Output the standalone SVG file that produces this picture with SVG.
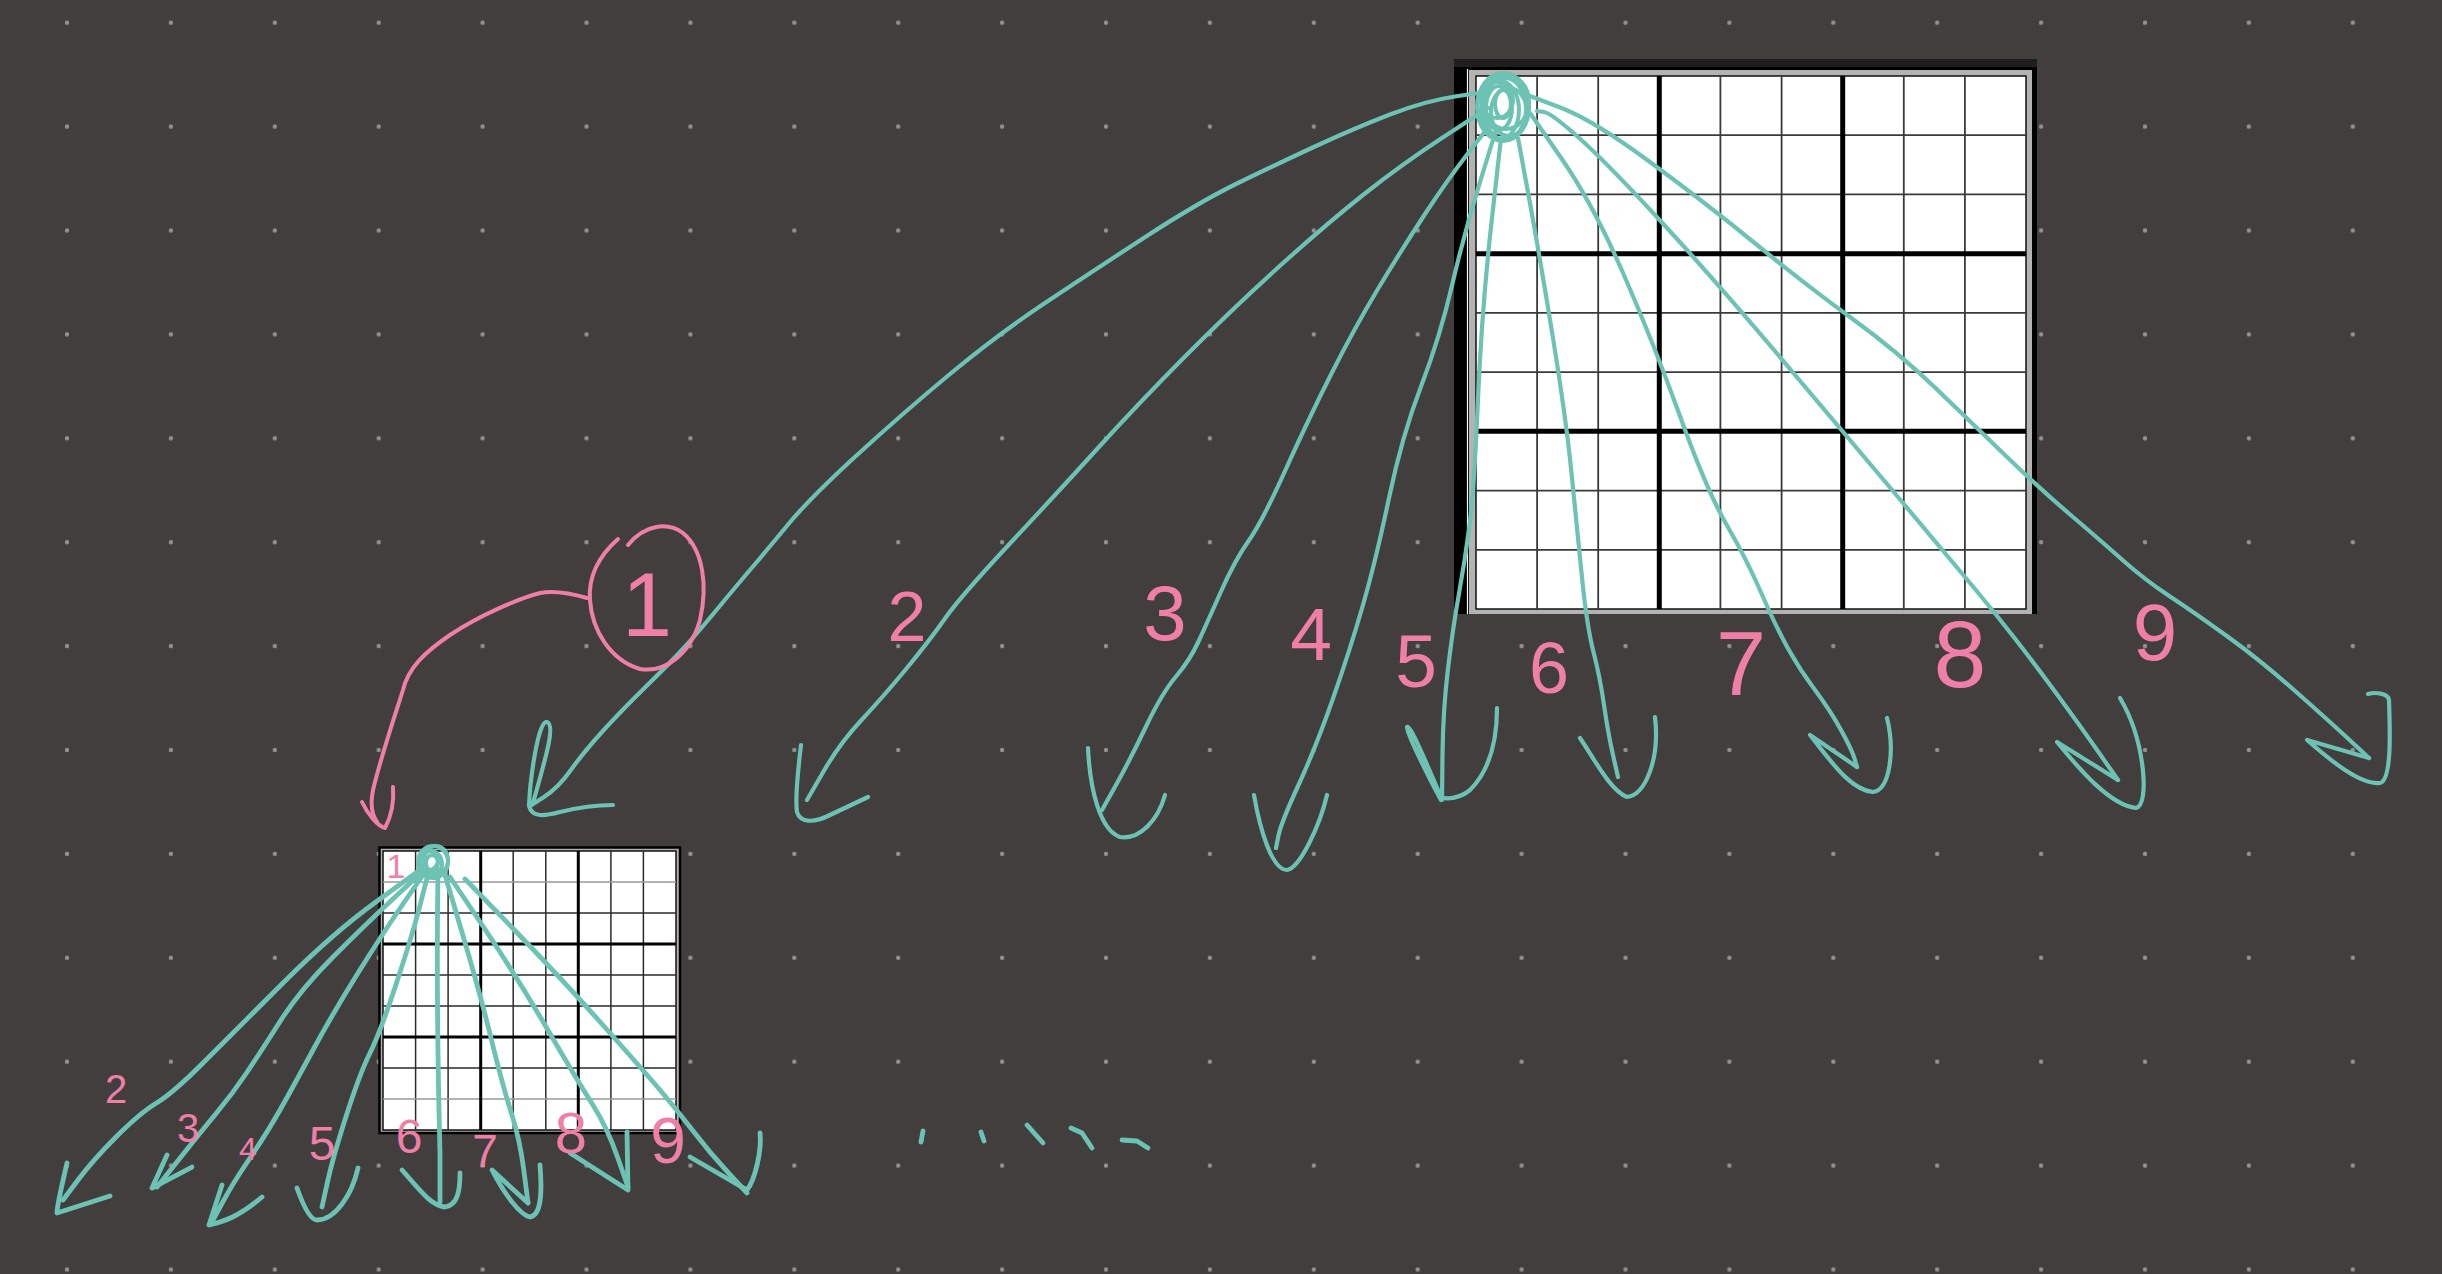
<svg xmlns="http://www.w3.org/2000/svg" width="2442" height="1274" viewBox="0 0 2442 1274">
<style>
.c{fill:none;stroke:#6cc3b3;stroke-width:4.2;stroke-linecap:round;stroke-linejoin:round}
.cs{fill:none;stroke:#6cc3b3;stroke-width:4.8;stroke-linecap:round;stroke-linejoin:round}
.p{fill:none;stroke:#f07fa8;stroke-width:4;stroke-linecap:round;stroke-linejoin:round}
.t{fill:none;stroke:#6cc3b3;stroke-width:4}
.lbl{fill:#f07fa8;font-family:"Liberation Sans",Arial,sans-serif;text-anchor:middle}
.thin{stroke:#3a3a3a;stroke-width:1.8}
.thick{stroke:#000;stroke-width:5}
.sthin{stroke:#2a2a2a;stroke-width:1.5}
.sthick{stroke:#000;stroke-width:3}
</style>
<defs>
<pattern id="dots" patternUnits="userSpaceOnUse" x="15.05" y="-29.25" width="103.9" height="103.9">
<circle cx="51.95" cy="51.95" r="2.2" fill="#929292"/>
</pattern>
</defs>
<rect x="0" y="0" width="2442" height="1274" fill="#423e3d"/>
<rect x="0" y="0" width="2442" height="1274" fill="url(#dots)"/>

<g id="board-large">
<rect x="1454" y="59" width="583" height="555" fill="#1f1f1f"/>
<rect x="1454" y="67" width="583" height="547" fill="#000"/>
<line x1="1467.5" y1="69" x2="1467.5" y2="614" stroke="#fff" stroke-width="1.2"/>
<rect x="1469" y="70" width="563" height="544" fill="#b3b3b3"/>
<rect x="1476" y="76" width="550" height="533" fill="#fff" stroke="#111" stroke-width="1.5"/>
<g class="thin">
<line x1="1537.1" y1="76" x2="1537.1" y2="609"/><line x1="1598.2" y1="76" x2="1598.2" y2="609"/>
<line x1="1720.4" y1="76" x2="1720.4" y2="609"/><line x1="1781.6" y1="76" x2="1781.6" y2="609"/>
<line x1="1903.8" y1="76" x2="1903.8" y2="609"/><line x1="1964.9" y1="76" x2="1964.9" y2="609"/>
<line x1="1476" y1="135.2" x2="2026" y2="135.2"/><line x1="1476" y1="194.4" x2="2026" y2="194.4"/>
<line x1="1476" y1="312.9" x2="2026" y2="312.9"/><line x1="1476" y1="372.1" x2="2026" y2="372.1"/>
<line x1="1476" y1="490.6" x2="2026" y2="490.6"/><line x1="1476" y1="549.8" x2="2026" y2="549.8"/>
</g>
<g class="thick">
<line x1="1659.3" y1="76" x2="1659.3" y2="609"/><line x1="1842.7" y1="76" x2="1842.7" y2="609"/>
<line x1="1476" y1="253.7" x2="2026" y2="253.7"/><line x1="1476" y1="431.3" x2="2026" y2="431.3"/>
</g>
</g>

<g id="board-small">
<rect x="379.5" y="847.5" width="300.5" height="285.5" fill="#b0b0b0" stroke="#000" stroke-width="2.5"/>
<rect x="383" y="851" width="293" height="279" fill="#fff" stroke="#111" stroke-width="1.5"/>
<g class="sthin">
<line x1="415.6" y1="851" x2="415.6" y2="1130"/><line x1="448.1" y1="851" x2="448.1" y2="1130"/>
<line x1="513.2" y1="851" x2="513.2" y2="1130"/><line x1="545.8" y1="851" x2="545.8" y2="1130"/>
<line x1="610.9" y1="851" x2="610.9" y2="1130"/><line x1="643.4" y1="851" x2="643.4" y2="1130"/>
<line x1="383" y1="882" x2="676" y2="882" stroke="#9a9a9a"/><line x1="383" y1="913" x2="676" y2="913"/>
<line x1="383" y1="975" x2="676" y2="975"/><line x1="383" y1="1006" x2="676" y2="1006"/>
<line x1="383" y1="1068" x2="676" y2="1068"/><line x1="383" y1="1099" x2="676" y2="1099" stroke="#9a9a9a"/>
</g>
<g class="sthick">
<line x1="480.7" y1="851" x2="480.7" y2="1130"/><line x1="578.3" y1="851" x2="578.3" y2="1130"/>
<line x1="383" y1="944" x2="676" y2="944"/><line x1="383" y1="1037" x2="676" y2="1037"/>
</g>
</g>

<g id="tangle-large">
<ellipse class="t" cx="1503" cy="107" rx="26" ry="34"/>
<ellipse class="t" cx="1500" cy="110" rx="19" ry="29"/>
<ellipse class="t" cx="1506" cy="102" rx="23" ry="27"/>
<ellipse class="t" cx="1499" cy="108" rx="13" ry="22"/>
<ellipse class="t" cx="1503" cy="104" rx="8" ry="14"/>
<ellipse class="t" cx="1509" cy="112" rx="18" ry="24"/>
<ellipse class="t" cx="1497" cy="100" rx="16" ry="18"/>
<ellipse class="t" cx="1505" cy="109" rx="21" ry="31"/>
</g>

<g id="tangle-small">
<ellipse class="t" cx="433" cy="862" rx="15" ry="16"/>
<ellipse class="t" cx="431" cy="864" rx="11" ry="13"/>
<ellipse class="t" cx="436" cy="860" rx="12" ry="14"/>
<ellipse class="t" cx="432" cy="863" rx="6" ry="8"/>
<ellipse class="t" cx="429" cy="860" rx="9" ry="10"/>
</g>

<g id="connectors">
<path class="c" d="M1485,92 L1455,96.5 Q1425,101 1390,114.5 Q1355,128 1316,146 Q1277,164 1238,183 Q1199,202 1144.5,237.5 Q1090,273 1043.5,304 Q997,335 950,374 Q903,413 856.5,455.5 Q810,498 788.5,524 Q767,550 752.5,567 Q738,584 719,607 Q700,630 686.5,645 Q673,660 646.5,686 Q620,712 601.5,732.5 Q583,753 570.5,770.5 Q558,788 544,797 L530,806"/>
<path class="c" d="M533,803 C545,760 556,725 547,722 C538,720 530,780 529,806 C532,818 545,816 560,812 C580,807 600,805 613,805"/>

<path class="c" d="M1488,108 L1445,136 Q1402,164 1363,195 Q1324,226 1277,268.5 Q1230,311 1183.5,358 Q1137,405 1098,448 Q1059,491 1009.5,544 Q960,597 945,618.5 Q930,640 906.5,668.5 Q883,697 861.5,720 Q840,743 823.5,771.5 L807,800"/>
<path class="c" d="M801,745 C798,770 795,800 797,812 C800,822 812,824 830,815 L868,797"/>

<path class="c" d="M1490,125 L1469,152 Q1448,179 1425,214 Q1402,249 1378.5,288 Q1355,327 1331.5,373.5 Q1308,420 1285,471 Q1262,522 1248.5,541 Q1235,560 1221,591.5 Q1207,623 1198.5,641.5 Q1190,660 1176,676.5 Q1162,693 1146,726.5 Q1130,760 1116,785 L1102,810"/>
<path class="c" d="M1088,748 C1090,790 1100,830 1120,837 C1140,840 1158,820 1165,795"/>

<path class="c" d="M1496,130 L1480,182 Q1464,234 1452,285.5 Q1440,337 1421,386.5 Q1402,436 1389,498 Q1376,560 1363,605 Q1350,650 1333,698.5 Q1316,747 1298.5,785 Q1281,823 1278.5,835.5 L1276,848"/>
<path class="c" d="M1254,795 C1260,830 1272,870 1287,870 C1300,868 1320,825 1327,795"/>

<path class="c" d="M1501,138 L1491.5,222.5 Q1482,307 1478,399 Q1474,491 1469.5,525.5 Q1465,560 1459,593.5 Q1453,627 1448,668.5 Q1443,710 1442.5,755 L1442,800"/>
<path class="c" d="M1441,800 C1430,780 1405,730 1407,727 C1410,724 1425,760 1441,797 C1448,800 1460,798 1470,790 C1490,770 1497,740 1497,708"/>

<path class="c" d="M1518,138 L1528.5,195 Q1539,252 1552.5,335 Q1566,418 1571.5,473 Q1577,528 1582,577.5 Q1587,627 1593.5,652 Q1600,677 1604,705 Q1608,733 1613,755 L1618,777"/>
<path class="c" d="M1580,738 C1595,760 1610,790 1627,797 C1645,795 1660,760 1655,717"/>

<path class="c" d="M1530,113 L1561.5,158.5 Q1593,204 1623.5,274 Q1654,344 1680.5,417.5 Q1707,491 1727,525.5 Q1747,560 1761.5,593.5 Q1776,627 1788,648.5 Q1800,670 1815,690 Q1830,710 1841,730 Q1852,750 1854.5,758.5 L1857,767"/>
<path class="c" d="M1857,767 L1810,735 C1830,760 1850,790 1873,792 C1890,790 1895,750 1887,718"/>

<path class="c" d="M1537,111 L1544,112 Q1551,113 1577.5,136.5 Q1604,160 1655.5,215.5 Q1707,271 1774,350 Q1841,429 1898,497 Q1955,565 1975,589 Q1995,613 2014.5,638 Q2034,663 2057.5,695 Q2081,727 2099.5,753.5 L2118,780"/>
<path class="c" d="M2118,780 L2057,742 C2080,770 2110,805 2136,808 C2150,805 2145,740 2120,698"/>

<path class="c" d="M1530,96 L1561.5,108 Q1593,120 1650,162 Q1707,204 1756.5,244.5 Q1806,285 1852,318.5 Q1898,352 1936,388.5 Q1974,425 2006.5,456.5 Q2039,488 2069.5,514 Q2100,540 2122.5,560 Q2145,580 2170,596.5 Q2195,613 2227.5,636.5 Q2260,660 2294,690 Q2328,720 2348.5,739 L2369,758"/>
<path class="c" d="M2369,758 L2307,740 C2330,760 2360,785 2380,783 C2392,780 2390,730 2389,700 C2388,693 2375,692 2368,694"/>

<path class="cs" d="M420,870 L376.5,901.5 Q333,933 283,983 Q233,1033 203,1063 Q173,1093 156.5,1103 Q140,1113 116.5,1136.5 Q93,1160 78,1180 L63,1200"/>
<path class="cs" d="M67,1163 C62,1185 57,1205 57,1213 L110,1196"/>
<path class="cs" d="M422,872 L394.5,897.5 Q367,923 333.5,956.5 Q300,990 280,1021.5 Q260,1053 246.5,1073 Q233,1093 216.5,1113 Q200,1133 178.5,1160 L157,1187"/>
<path class="cs" d="M167,1155 L152,1188 L192,1167"/>
<path class="cs" d="M425,872 L404,902.5 Q383,933 358,973 Q333,1013 313,1050 Q293,1087 280,1110 Q267,1133 250,1158 Q233,1183 223,1201.5 L213,1220"/>
<path class="cs" d="M222,1185 L209,1225 C220,1222 235,1220 262,1197"/>
<path class="cs" d="M428,874 L420.5,903.5 Q413,933 396.5,983 Q380,1033 370,1053 Q360,1073 346.5,1115 Q333,1157 327.5,1182 L322,1207"/>
<path class="cs" d="M297,1188 C303,1205 310,1220 317,1220 C335,1220 352,1195 358,1168"/>
<path class="cs" d="M438,870 Q436,1000 440,1153 L440,1202"/>
<path class="cs" d="M402,1170 C420,1190 430,1205 445,1207 C458,1205 460,1190 460,1173"/>
<path class="cs" d="M445,875 L462.5,934 Q480,993 491.5,1040 Q503,1087 511.5,1113.5 Q520,1140 524,1171.5 L528,1203"/>
<path class="cs" d="M528,1203 L492,1170 C505,1195 520,1215 530,1217 C542,1215 542,1190 540,1165"/>
<path class="cs" d="M450,877 L483.5,927 Q517,977 547,1028.5 Q577,1080 592,1103.5 Q607,1127 617.5,1157 L628,1187"/>
<path class="cs" d="M570,1153 L628,1190 L627,1132"/>
<path class="cs" d="M465,879 L512.5,928 Q560,977 601.5,1023.5 Q643,1070 660,1090 Q677,1110 693.5,1131.5 Q710,1153 728.5,1173 L747,1193"/>
<path class="cs" d="M690,1157 L747,1190 C755,1180 762,1150 760,1133"/>

<path class="cs" d="M923,1131 L921,1142"/>
<path class="cs" d="M981,1132 L984,1141"/>
<path class="cs" d="M1027,1125 L1043,1143"/>
<path class="cs" d="M1071,1128 L1082,1133 L1092,1148"/>
<path class="cs" d="M1122,1140 L1137,1141 L1148,1148"/>

<path class="p" d="M618,539 C600,555 588,575 590,600 C592,630 610,660 640,669 C665,673 690,655 700,620 C708,585 703,550 683,533 C668,522 645,524 628,545"/>
<path class="p" d="M587,598 C570,593 555,590 540,593 C520,598 480,615 450,635 C425,652 408,668 403,690 C395,715 380,760 373,790 C370,805 372,815 377,822"/>
<path class="p" d="M362,802 C368,815 378,826 385,828 C392,815 394,800 393,787"/>
</g>

<g id="labels">
<text class="lbl" x="647" y="636" font-size="90">1</text>
<text class="lbl" x="907" y="641" font-size="70">2</text>
<text class="lbl" x="1165" y="640" font-size="78">3</text>
<text class="lbl" x="1311" y="660" font-size="75">4</text>
<text class="lbl" x="1416" y="687" font-size="75">5</text>
<text class="lbl" x="1549" y="693" font-size="72">6</text>
<text class="lbl" x="1741" y="695" font-size="90">7</text>
<text class="lbl" x="1960" y="687" font-size="95">8</text>
<text class="lbl" x="2155" y="660" font-size="80">9</text>
<text class="lbl" x="396" y="878" font-size="34">1</text>
<text class="lbl" x="116" y="1103" font-size="40">2</text>
<text class="lbl" x="188" y="1142" font-size="40">3</text>
<text class="lbl" x="248" y="1160" font-size="32">4</text>
<text class="lbl" x="322" y="1160" font-size="48">5</text>
<text class="lbl" x="409" y="1153" font-size="48">6</text>
<text class="lbl" x="485" y="1167" font-size="46">7</text>
<text class="lbl" x="571" y="1153" font-size="58">8</text>
<text class="lbl" x="668" y="1163" font-size="64">9</text>
</g>
</svg>
